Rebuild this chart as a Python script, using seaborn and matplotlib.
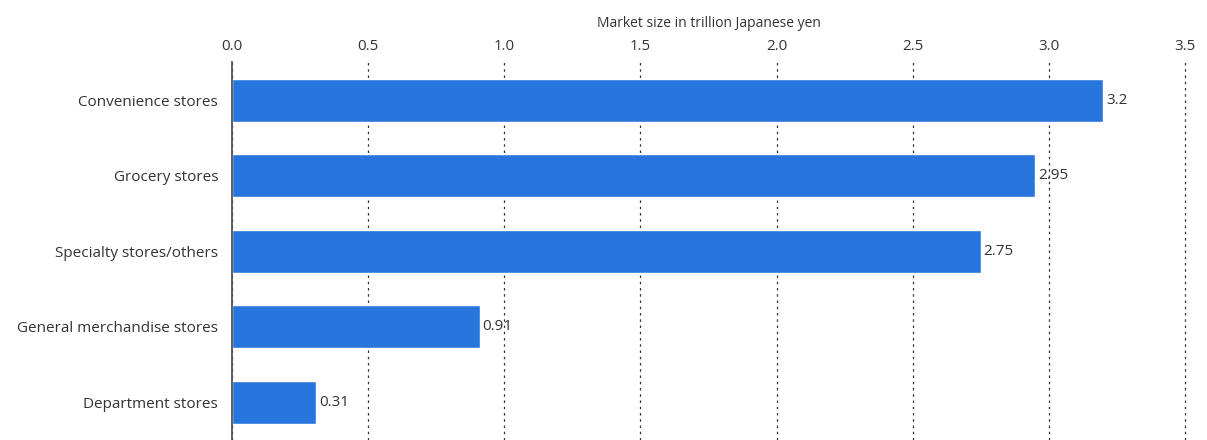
import matplotlib
matplotlib.use("Agg")
import matplotlib.pyplot as plt
import seaborn as sns
import pandas as pd

categories = [
    "Convenience stores",
    "Grocery stores",
    "Specialty stores/others",
    "General merchandise stores",
    "Department stores",
]
values = [3.2, 2.95, 2.75, 0.91, 0.31]
value_labels = ["3.2", "2.95", "2.75", "0.91", "0.31"]
x_ticks = [0.0, 0.5, 1.0, 1.5, 2.0, 2.5, 3.0, 3.5]
x_title = "Market size in trillion Japanese yen"

sns.set_theme(style="white")
plt.rcParams["font.family"] = ["Open Sans", "DejaVu Sans"]

text_color = "#333333"
bar_color = "#2876dd"

df = pd.DataFrame({"category": categories, "value": values})

fig = plt.figure(figsize=(12.07, 4.4), dpi=100)
ax = fig.add_axes([232 / 1207, 0.0, (1185 - 232) / 1207, 1 - 62.5 / 440])

sns.barplot(data=df, x="value", y="category", color=bar_color, saturation=1,
            width=0.57, ax=ax, zorder=3)

ax.set_xlim(0, 3.5)
ax.set_ylim(4.5, -0.5)
ax.set_xticks(x_ticks)
ax.set_xticklabels([f"{t:.1f}" for t in x_ticks])
ax.xaxis.tick_top()
ax.xaxis.set_label_position("top")
ax.set_xlabel(x_title, fontsize=10, color=text_color, labelpad=9)
ax.set_ylabel("")
ax.tick_params(axis="x", length=0, pad=6, labelsize=10.8, colors=text_color)
ax.tick_params(axis="y", length=0, pad=10, labelsize=11, colors=text_color)

ax.grid(axis="x", color="#333333", linestyle=(0, (2, 3)), linewidth=0.9, zorder=0)
ax.grid(axis="y", visible=False)
for gl in ax.get_xgridlines():
    gl.set_clip_on(False)

for side in ["top", "right", "bottom"]:
    ax.spines[side].set_visible(False)
ax.spines["left"].set_color("#555555")
ax.spines["left"].set_linewidth(1.3)
ax.spines["left"].set_zorder(4)

for i, (v, lab) in enumerate(zip(values, value_labels)):
    ax.text(v + 0.01, i, lab, va="center", ha="left", fontsize=11,
            color=text_color, zorder=5)

fig.savefig("out.png", dpi=100)
